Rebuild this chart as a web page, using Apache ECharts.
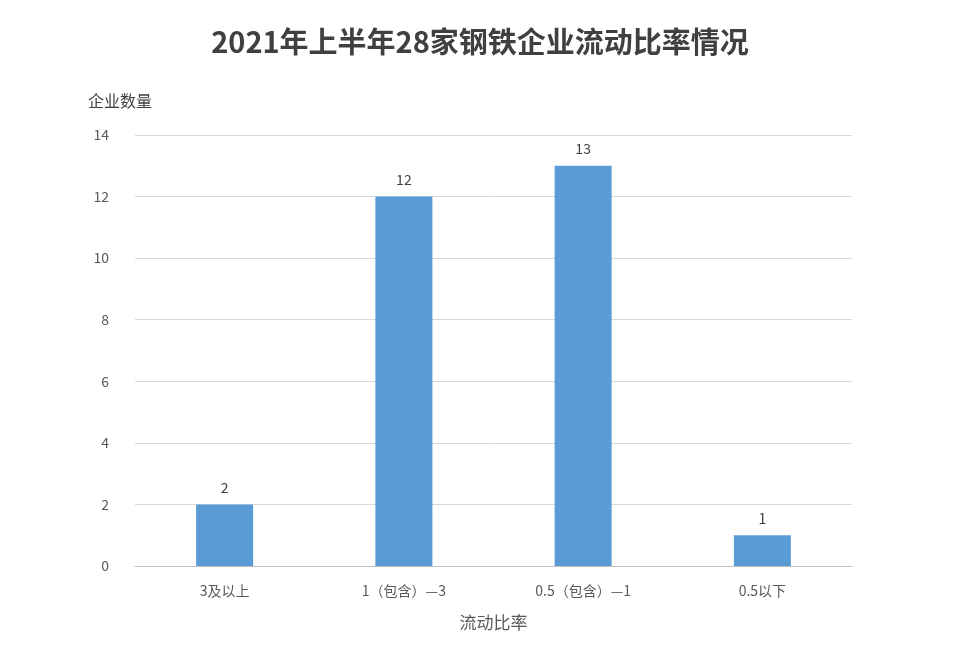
<!DOCTYPE html>
<html>
<head>
<meta charset="utf-8">
<script src="https://cdn.jsdelivr.net/npm/echarts@6/dist/echarts.min.js"></script>
<style>
html, body { margin: 0; padding: 0; background: #fff; }
#chart { width: 960px; height: 656px; }
</style>
</head>
<body>
<div id="chart"></div>
<script>
// 数据
var categories = ['3及以上', '1（包含）—3', '0.5（包含）—1', '0.5以下'];
var companyCounts = [2, 12, 13, 1];

var chart = echarts.init(document.getElementById('chart'));
var font = '"Noto Sans CJK SC", "Microsoft YaHei", sans-serif';
var option = {
    animation: false,
    title: {
        text: '2021年上半年28家钢铁企业流动比率情况',
        left: 'center',
        top: 22,
        textStyle: { fontSize: 29, fontWeight: 'bold', color: '#404040', fontFamily: font }
    },
    grid: { left: 135, right: 108, top: 135, bottom: 90 },
    xAxis: {
        type: 'category',
        data: categories,
        name: '流动比率',
        nameLocation: 'middle',
        nameGap: 48,
        nameTextStyle: { fontSize: 17, color: '#595959', fontFamily: font },
        axisLine: { lineStyle: { color: '#bfbfbf' } },
        axisTick: { show: false },
        axisLabel: { fontSize: 14, color: '#595959', margin: 18, fontFamily: font }
    },
    yAxis: {
        type: 'value',
        min: 0,
        max: 14,
        interval: 2,
        name: '企业数量',
        nameGap: 26,
        nameTextStyle: { fontSize: 16, color: '#404040', fontFamily: font, align: 'center', padding: [0, 0, 0, -30] },
        axisLine: { show: false },
        axisTick: { show: false },
        axisLabel: { fontSize: 14, color: '#595959', margin: 26, fontFamily: font },
        splitLine: { lineStyle: { color: '#d9d9d9' } }
    },
    series: [{
        type: 'bar',
        data: companyCounts,
        barWidth: 57,
        itemStyle: { color: '#5b9bd5' },
        label: { show: true, position: 'top', distance: 10, fontSize: 14, color: '#404040', fontFamily: font }
    }]
};
chart.setOption(option);
</script>
</body>
</html>
